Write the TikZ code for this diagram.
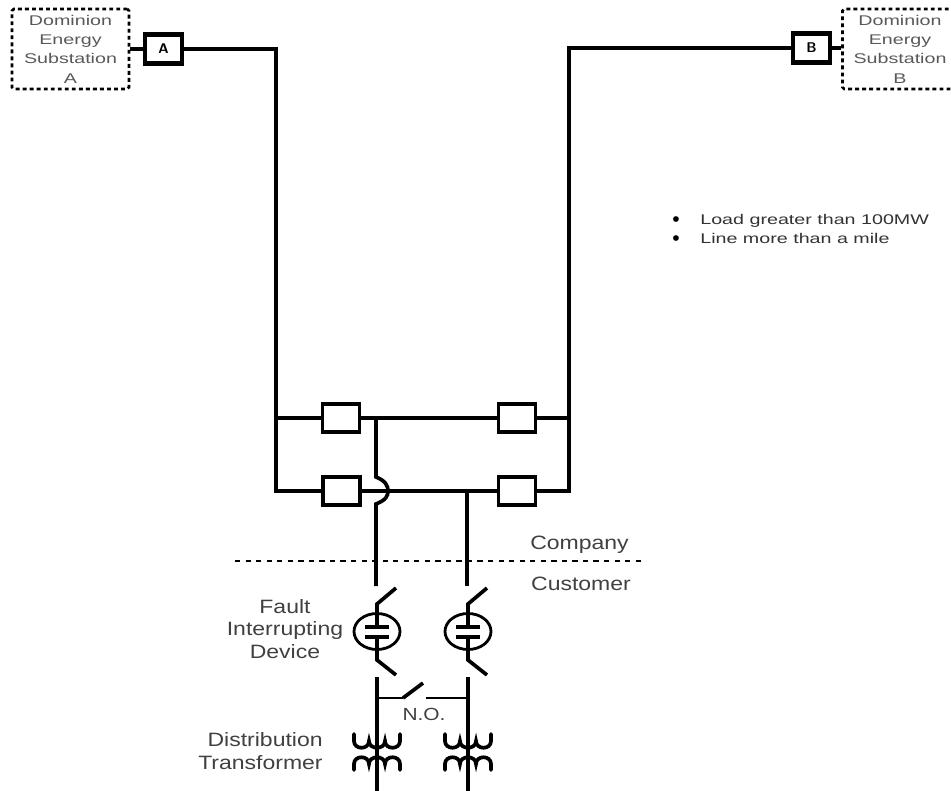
\documentclass[tikz,border=0pt]{standalone}
\usepackage{fontspec}
\setmainfont{Liberation Sans}
\newfontfamily\labelfont[FakeStretch=1.19]{Liberation Sans}
\newfontfamily\smallfont[FakeStretch=1.4]{Liberation Sans}
\tikzset{
  busline/.style={line width=2.1pt},
  thinline/.style={line width=1.6pt},
  breakerbox/.style={draw,line width=2.1pt,minimum width=0.74cm,minimum height=0.56cm,inner sep=0pt},
  meterbox/.style={draw,line width=2.3pt,minimum width=0.74cm,minimum height=0.58cm,inner sep=0pt,font=\sffamily\bfseries\footnotesize},
  substation/.style={draw,line width=1.5pt,dash pattern=on 2.2pt off 1.8pt,rounded corners=1pt,
    minimum height=1.6cm,inner sep=0pt,align=center,text=black!65,font=\smallfont\fontsize{8}{11}\selectfont},
  caption/.style={text=black!75,inner sep=0pt,align=center,font=\labelfont\fontsize{11}{13}\selectfont},
  note/.style={text=black!80,inner sep=0pt,anchor=base west,font=\smallfont\fontsize{8}{11}\selectfont}
}
\begin{document}
\begin{tikzpicture}[x=0.02cm,y=-0.02cm]
\useasboundingbox (0,0) rectangle (951,791);

% Substations and meters
\node[substation,minimum width=2.34cm] (subA) at (70.5,49) {Dominion\\Energy\\Substation\\A};
\node[substation,minimum width=2.3cm] (subB) at (900,49) {Dominion\\Energy\\Substation\\B};
\node[meterbox] (meterA) at (163.5,49) {A};
\node[meterbox] (meterB) at (811.5,48) {B};

% Breakers
\node[breakerbox] (brkTL) at (341,418) {};
\node[breakerbox] (brkTR) at (517,418) {};
\node[breakerbox] (brkBL) at (341.5,491) {};
\node[breakerbox] (brkBR) at (517,491) {};

% Corners and junctions of the ring
\coordinate (lineAtop) at (276,49);
\coordinate (lineAmid) at (276,418);
\coordinate (lineAbot) at (276,491);
\coordinate (lineBtop) at (569,48);
\coordinate (lineBmid) at (569,418);
\coordinate (lineBbot) at (569,491);
\coordinate (feedAtop) at (376,418);
\coordinate (feedAjump) at (376,477);
\coordinate (feedAland) at (376,504);
\coordinate (feedAend) at (376,586);
\coordinate (feedBtop) at (467,491);
\coordinate (feedBend) at (467,586);

% Ring
\draw[busline] (subA.east |- meterA) -- (meterA);
\draw[busline] (meterB) -- (subB.west |- meterB);
\draw[busline,line join=miter] (meterA) -- (lineAtop) -- (lineAbot) -- (brkBL);
\draw[busline,line join=miter] (meterB) -- (lineBtop) -- (lineBbot) -- (brkBR);
\draw[busline] (lineAmid) -- (brkTL);
\draw[busline] (brkTL) -- (brkTR);
\draw[busline] (brkTR) -- (lineBmid);
\draw[busline] (brkBL) -- (brkBR);

% Feeders, the left one jumps over the bus
\draw[busline] (feedAtop) -- (feedAjump) .. controls (386,481) and (388,486) .. (388,491)
  .. controls (388,496) and (386,500) .. (feedAland) -- (feedAend);
\draw[busline] (feedBtop) -- (feedBend);

% Company / customer boundary
\coordinate (limitL) at (235,561);
\coordinate (limitR) at (643,561);
\draw[thinline,dashed] (limitL) -- (limitR);
\node[caption] (company) at (579.5,545) {Company};
\node[caption] (customer) at (581,584) {Customer};

% Fault interrupting devices and transformers
\foreach \xc/\nm in {377/L,468/R}{
  \coordinate (top\nm) at (\xc,604);
  \coordinate (plateA\nm) at (\xc,627);
  \coordinate (plateB\nm) at (\xc,637);
  \coordinate (low\nm) at (\xc,660);
  \coordinate (bladeA\nm) at (\xc+19,588);
  \coordinate (bladeB\nm) at (\xc+19,675);
  \coordinate (dev\nm) at (\xc,631.5);
  \coordinate (busS\nm) at (\xc,677);
  \coordinate (busE\nm) at (\xc,791);
  \draw[busline] (bladeA\nm) -- (top\nm) -- (plateA\nm);
  \draw[busline] (plateB\nm) -- (low\nm) -- (bladeB\nm);
  \draw[busline] (\xc-12,627) -- (\xc+12,627);
  \draw[busline] (\xc-12,637) -- (\xc+12,637);
  \draw[thinline] (dev\nm) ellipse (0.46cm and 0.36cm);
  \draw[busline] (busS\nm) -- (busE\nm);
  % upper and lower winding
  \draw[busline,line cap=round] (\xc-23,734) -- (\xc-23,741)
    .. controls (\xc-23,750) and (\xc-8,750) .. (\xc-8,741)
    .. controls (\xc-8,750) and (\xc+8,750) .. (\xc+8,741)
    .. controls (\xc+8,750) and (\xc+23,750) .. (\xc+23,741) -- (\xc+23,734);
  \draw[busline,line cap=round] (\xc-23,770) -- (\xc-23,764)
    .. controls (\xc-23,755) and (\xc-8,755) .. (\xc-8,764)
    .. controls (\xc-8,755) and (\xc+8,755) .. (\xc+8,764)
    .. controls (\xc+8,755) and (\xc+23,755) .. (\xc+23,764) -- (\xc+23,770);
}

% Normally open tie
\coordinate (tieL) at (377,698);
\coordinate (tieR) at (468,698);
\coordinate (tieHinge) at (403,698);
\coordinate (tieBlade) at (423,683);
\coordinate (tieStud) at (426,698);
\draw[thinline] (tieL) -- (tieHinge);
\draw[busline] (tieHinge) -- (tieBlade);
\draw[thinline] (tieStud) -- (tieR);
\node[caption,font=\labelfont\fontsize{10}{12}\selectfont] (tieText) at (424,714) {N.O.};

% Labels
\node[caption] (faultText) at (285,629) {Fault\\Interrupting\\Device};
\node[caption,align=right,anchor=east] (trafoText) at (323,751) {Distribution\\Transformer};

% Notes
\node[inner sep=0pt,text=black,font=\fontsize{12}{12}\selectfont] (dotA) at (676,222) {•};
\node[inner sep=0pt,text=black,font=\fontsize{12}{12}\selectfont] (dotB) at (676,241) {•};
\node[note] (noteA) at (700,224.5) {Load greater than 100MW};
\node[note] (noteB) at (700,243) {Line more than a mile};
\end{tikzpicture}
\end{document}
